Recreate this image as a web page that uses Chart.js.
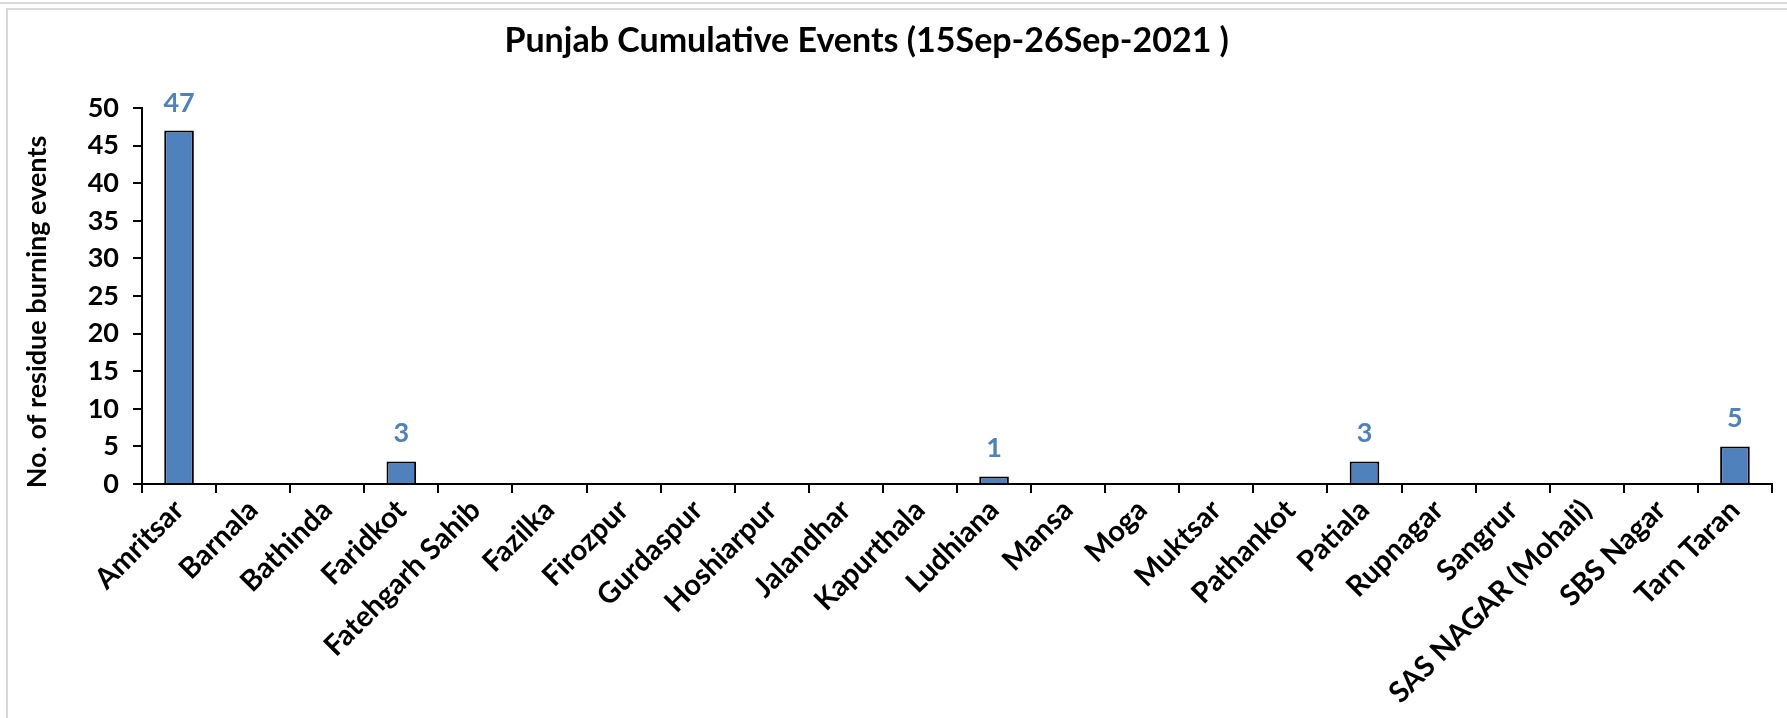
<!DOCTYPE html>
<html>
<head>
<meta charset="utf-8">
<script src="https://cdn.jsdelivr.net/npm/chart.js@4.4.1/dist/chart.umd.min.js"></script>
<style>
  html, body { margin: 0; padding: 0; background: #fff; }
  body { width: 1787px; height: 718px; overflow: hidden; position: relative; }
  #topline { position: absolute; left: 0; top: 2px; width: 1787px; height: 2px; background: #d9d9d9; }
  #frame { position: absolute; left: 6px; top: 8px; width: 1800px; height: 720px; border: 2px solid #d9d9d9; box-sizing: border-box; }
  #chartBox { position: absolute; left: 0; top: 0; width: 1787px; height: 718px; }
</style>
</head>
<body>
<div id="topline"></div>
<div id="frame"></div>
<div id="chartBox"><canvas id="chart" width="1787" height="718"></canvas></div>
<script>
const districts = ['Amritsar', 'Barnala', 'Bathinda', 'Faridkot', 'Fatehgarh Sahib', 'Fazilka',
  'Firozpur', 'Gurdaspur', 'Hoshiarpur', 'Jalandhar', 'Kapurthala', 'Ludhiana', 'Mansa', 'Moga',
  'Muktsar', 'Pathankot', 'Patiala', 'Rupnagar', 'Sangrur', 'SAS NAGAR (Mohali)', 'SBS Nagar', 'Tarn Taran'];
const events = [47, 0, 0, 3, 0, 0, 0, 0, 0, 0, 0, 1, 0, 0, 0, 0, 3, 0, 0, 0, 0, 5];
const yTicks = [0, 5, 10, 15, 20, 25, 30, 35, 40, 45, 50];
const chartTitle = 'Punjab Cumulative Events (15Sep-26Sep-2021 )';
const yTitle = 'No. of residue burning events';

const FONT = 'Lato, "Open Sans", sans-serif';
const BLUE = '#4f81bd';

// value labels above the non-zero bars
const barLabels = {
  id: 'barLabels',
  afterDatasetsDraw(chart) {
    const ctx = chart.ctx;
    const meta = chart.getDatasetMeta(0);
    ctx.save();
    ctx.font = 'bold 27px ' + FONT;
    ctx.fillStyle = BLUE;
    ctx.textAlign = 'center';
    ctx.textBaseline = 'alphabetic';
    meta.data.forEach((bar, i) => {
      const v = events[i];
      if (!v) return;
      ctx.fillText(String(v), bar.x, bar.y - 19);
    });
    ctx.restore();
  }
};

// chart title and y-axis title, placed like the original (slightly off-centre)
const titles = {
  id: 'titles',
  afterDraw(chart) {
    const ctx = chart.ctx;
    ctx.save();
    ctx.fillStyle = '#000';
    ctx.textAlign = 'center';
    ctx.textBaseline = 'middle';
    ctx.font = 'bold 34px ' + FONT;
    ctx.fillText(chartTitle, chart.width * 0.485, 41);

    ctx.font = 'bold 27px ' + FONT;
    ctx.translate(37, chart.chartArea.bottom - 172);
    ctx.rotate(-Math.PI / 2);
    ctx.fillText(yTitle, 0, 0);
    ctx.restore();
  }
};

new Chart(document.getElementById('chart').getContext('2d'), {
  type: 'bar',
  data: {
    labels: districts,
    datasets: [{
      data: events,
      backgroundColor: BLUE,
      borderColor: '#000',
      borderWidth: 2,
      borderSkipped: 'bottom',
      barPercentage: 0.4,
      categoryPercentage: 1
    }]
  },
  options: {
    responsive: false,
    animation: false,
    layout: { padding: { left: 14, right: 15, top: 108, bottom: 0 } },
    plugins: {
      legend: { display: false },
      tooltip: { enabled: false },
      title: { display: false }
    },
    scales: {
      x: {
        grid: { display: true, drawOnChartArea: false, drawTicks: true, tickLength: 9, color: '#000', lineWidth: 2, offset: true },
        border: { display: true, color: '#000', width: 2 },
        ticks: {
          color: '#000',
          font: { family: FONT, size: 29, weight: 'bold' },
          maxRotation: 45,
          minRotation: 45,
          autoSkip: false,
          padding: 0
        },
        afterFit(scale) { scale.height = 234; }
      },
      y: {
        min: 0,
        max: 50,
        afterBuildTicks(scale) { scale.ticks = yTicks.map(v => ({ value: v })); },
        grid: { display: true, drawOnChartArea: false, drawTicks: true, tickLength: 9, color: '#000', lineWidth: 2 },
        border: { display: true, color: '#000', width: 2 },
        ticks: {
          color: '#000',
          font: { family: FONT, size: 27, weight: 'bold' },
          padding: 14
        },
        afterFit(scale) { scale.width = 128; }
      }
    }
  },
  plugins: [barLabels, titles]
});
</script>
</body>
</html>
